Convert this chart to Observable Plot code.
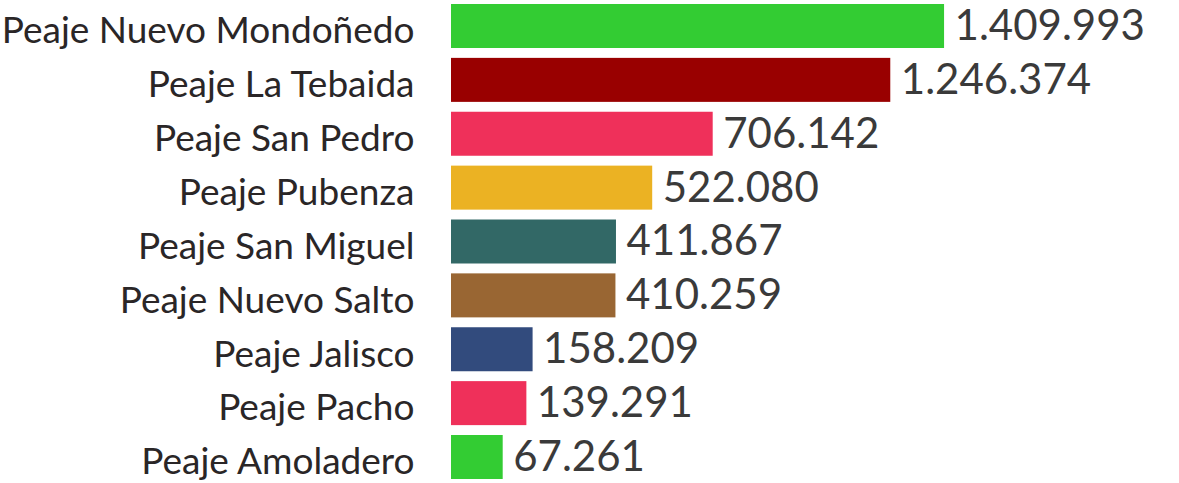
<!DOCTYPE html>
<html>
<head>
<meta charset="utf-8">
<script src="https://cdn.jsdelivr.net/npm/d3@7"></script>
<script src="https://cdn.jsdelivr.net/npm/@observablehq/plot@0.6"></script>
<style>
  html, body { margin: 0; padding: 0; background: #ffffff; }
  #chart svg { display: block; }
</style>
</head>
<body>
<div id="chart"></div>
<script>
const categories = [
  "Peaje Nuevo Mondoñedo",
  "Peaje La Tebaida",
  "Peaje San Pedro",
  "Peaje Pubenza",
  "Peaje San Miguel",
  "Peaje Nuevo Salto",
  "Peaje Jalisco",
  "Peaje Pacho",
  "Peaje Amoladero"
];
const values = [1409993, 1246374, 706142, 522080, 411867, 410259, 158209, 139291, 67261];
const colors = ["#33cc33", "#990000", "#ef305a", "#ebb223", "#326866", "#996633", "#324b7d", "#ef305a", "#33cc33"];

const xStart = -90000;
const xEnd = 2000000;

const data = categories.map((name, i) => ({ name, value: values[i], color: colors[i] }));

const esFormat = d3.formatLocale({ decimal: ",", thousands: ".", grouping: [3], currency: ["", ""] }).format(",d");

const chart = Plot.plot({
  width: 1179,
  height: 483,
  marginLeft: 451,
  marginRight: 41,
  marginTop: 4,
  marginBottom: 4,
  style: { fontFamily: "Lato, sans-serif", background: "#ffffff" },
  x: { domain: [xStart, xEnd], axis: null },
  y: { domain: categories, paddingInner: 0.1833, paddingOuter: 0, round: false, axis: null },
  color: { type: "identity" },
  marks: [
    Plot.barX(data, { x1: xStart, x2: "value", y: "name", fill: "color" }),
    Plot.text(data, {
      x: "value", y: "name", text: d => esFormat(d.value),
      textAnchor: "start", dx: 10, dy: 0, fontSize: 42, fontWeight: 400, fill: "#3a3a3a"
    }),
    Plot.text(data, {
      x: xStart, y: "name", text: "name",
      textAnchor: "end", dx: -37, dy: 5, fontSize: 37, fontWeight: 400, fill: "#2a2627"
    })
  ]
});
document.getElementById("chart").appendChild(chart);
</script>
</body>
</html>
